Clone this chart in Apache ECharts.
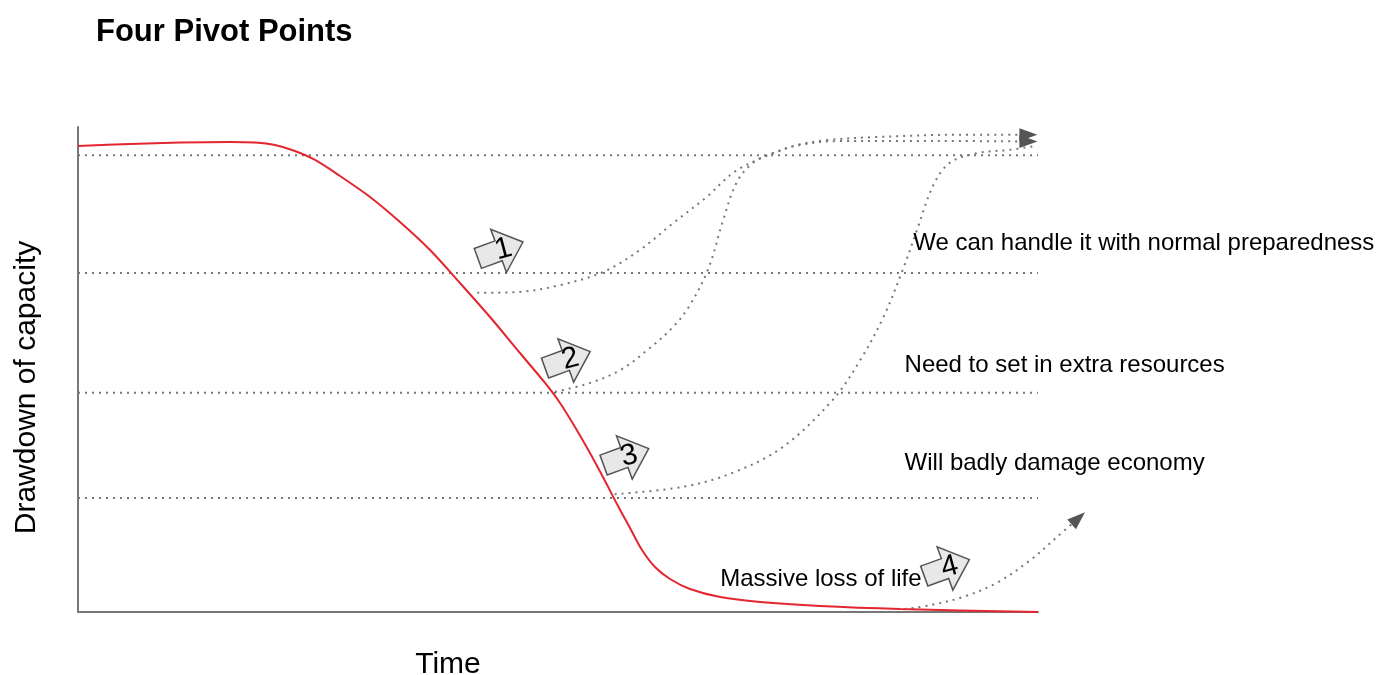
<!DOCTYPE html>
<html>
<head>
<meta charset="utf-8">
<script src="https://cdn.jsdelivr.net/npm/echarts@6/dist/echarts.min.js"></script>
<style>html,body{margin:0;padding:0;background:#fff;}#c{width:1394px;height:675px;}</style>
</head>
<body>
<div id="c"></div>
<script>
// ---- data (x: time units 0..100, y: capacity 0..100) ----
const titleText = 'Four Pivot Points';
const xName = 'Time';
const yName = 'Drawdown of capacity';

const redCurve = [[0,96.08],[5.42,96.49],[10.63,96.8],[15.83,96.91],[18.44,96.8],[20.52,96.29],[22.6,95.05],[24.69,93.2],[27.29,89.9],[30.42,85.57],[33.54,80.41],[36.67,74.64],[39.79,67.84],[42.92,60.82],[46.04,53.4],[48.65,47.22],[50.21,43.09],[51.77,38.14],[53.33,32.78],[54.9,27.01],[56.25,21.86],[57.5,17.32],[58.75,12.78],[60.1,9.28],[61.67,6.8],[63.75,4.74],[66.88,3.09],[71.04,2.06],[77.29,1.24],[85.63,0.62],[100,0]];

const recovery1 = [[41.6,65.8],[46.0,66.0],[50.2,67.4],[54.7,70.1],[58.5,74.6],[62.0,80.2],[65.5,85.6],[68.2,90.5],[70.7,93.2],[72.4,94.6],[74.9,96.3],[78.0,97.3],[82.8,97.9],[91.9,98.4],[99.0,98.4]];
const recovery2 = [[49.7,45.4],[53.3,47.2],[56.5,49.9],[59.3,54.0],[62.0,58.8],[63.75,63.3],[65.7,71.0],[67.2,80.8],[68.6,88.5],[70.3,92.6],[72.4,94.6],[75.2,96.3],[79.4,97.1],[91.9,97.1],[99.0,97.0]];
const recovery3 = [[55.9,24.3],[63.0,25.8],[68.2,28.7],[73.4,34.0],[78.6,43.7],[81.5,52.0],[83.9,60.8],[85.9,70.5],[87.4,78.8],[89.1,88.0],[90.8,92.6],[93.6,94.6],[97.1,95.3],[99.7,96.1]];
const recovery4 = [[86.1,0.6],[88.75,1.4],[92.2,3.1],[95.7,6.0],[99.2,10.7],[102.0,15.5],[104.2,19.3]];

const levels = [94.2, 69.9, 45.2, 23.5];

const pivotLabels = ['1','2','3','4'];
const pivotX = [44.0, 51.0, 57.1, 90.5];
const pivotY = [74.6, 52.0, 32.0, 9.1];

const notes = ['We can handle it with normal preparedness','Need to set in extra resources','Will badly damage economy','Massive loss of life'];
const noteX = [87.0, 86.1, 86.1, 66.9];
const noteY = [76.1, 50.9, 30.7, 6.8];

// ---- build ----
const FONT = "'Liberation Sans', Arial, Helvetica, sans-serif";
const dotStyle = {color:'#777', width:2, type:[2,5]};

const series = [];
levels.forEach(function(v){
  series.push({type:'line', data:[[0,v],[100,v]], symbol:'none', silent:true,
    lineStyle:dotStyle, z:1});
});
[recovery1, recovery2, recovery3].forEach(function(c){
  series.push({type:'line', data:c, symbol:'none', smooth:0.35, silent:true,
    lineStyle:dotStyle, z:2});
});
// path beyond the time axis end lives on a wider companion grid with the same scale
series.push({type:'line', xAxisIndex:1, yAxisIndex:1, data:recovery4, symbol:'none', smooth:0.35,
  clip:false, silent:true, lineStyle:dotStyle, z:2});
series.push({type:'line', data:redCurve, symbol:'none', smooth:0.3,
  lineStyle:{color:'#e3262f', width:2}, z:3});

// arrow heads at ends of recovery paths
series.push({type:'scatter', symbol:'triangle', symbolSize:[13,18], clip:false,
  data:[{value: recovery1[recovery1.length-1], symbolRotate:-90},
        {value: recovery2[recovery2.length-1], symbolRotate:-90}],
  itemStyle:{color:'#555', opacity:1}, z:4, silent:true});
series.push({type:'scatter', xAxisIndex:1, yAxisIndex:1, symbol:'triangle', symbolSize:[13,18], clip:false,
  data:[{value: recovery4[recovery4.length-1], symbolRotate:-48}],
  itemStyle:{color:'#555', opacity:1}, z:4, silent:true});

// pivot block arrows
series.push({type:'scatter', clip:false, z:5,
  data: pivotLabels.map(function(l,i){return {value:[pivotX[i],pivotY[i]], name:l};}),
  symbol:'path://M0,27 L46,27 L46,0 L100,50 L46,100 L46,73 L0,73 Z',
  symbolSize:[48,46], symbolRotate:20,
  itemStyle:{color:'#e8e8e8', borderColor:'#555', borderWidth:1.5, opacity:1},
  label:{show:true, position:'inside', formatter:'{b}', fontSize:30, color:'#000',
    fontFamily:FONT, rotate:15, offset:[3,0]}
});

// annotations
series.push({type:'scatter', clip:false, z:6, symbolSize:0,
  itemStyle:{opacity:1},
  data: notes.map(function(t,i){return {value:[noteX[i],noteY[i]], name:t};}),
  label:{show:true, position:'right', distance:0, formatter:'{b}', fontSize:24,
    color:'#000', fontFamily:FONT}
});

const axisOff = {show:false};
const option = {
  backgroundColor:'#fff',
  animation:false,
  title:{text:titleText, left:91, top:12, textStyle:{fontSize:31, fontWeight:'bold', color:'#000', fontFamily:FONT}},
  grid:[
    {left:78, top:127, width:960, height:485, containLabel:false, outerBoundsMode:'none'},
    {left:78, top:127, width:1056, height:485, containLabel:false, outerBoundsMode:'none'}
  ],
  xAxis:[
    {type:'value', gridIndex:0, min:0, max:100, name:xName, nameLocation:'middle', nameGap:38,
      nameTextStyle:{fontSize:30, color:'#000', fontFamily:FONT, padding:[0,220,0,0]},
      axisLine:{show:true, lineStyle:{color:'#777', width:2}}, axisTick:axisOff,
      axisLabel:axisOff, splitLine:axisOff},
    {type:'value', gridIndex:1, min:0, max:110, show:false}
  ],
  yAxis:[
    {type:'value', gridIndex:0, min:0, max:100, name:yName, nameLocation:'middle', nameGap:36,
      nameTextStyle:{fontSize:30, color:'#000', fontFamily:FONT, padding:[0,36,0,0]},
      axisLine:{show:true, lineStyle:{color:'#777', width:2}}, axisTick:axisOff,
      axisLabel:axisOff, splitLine:axisOff},
    {type:'value', gridIndex:1, min:0, max:100, show:false}
  ],
  series:series
};
const chart = echarts.init(document.getElementById('c'), null, {renderer:'canvas'});
chart.setOption(option);
</script>
</body>
</html>
